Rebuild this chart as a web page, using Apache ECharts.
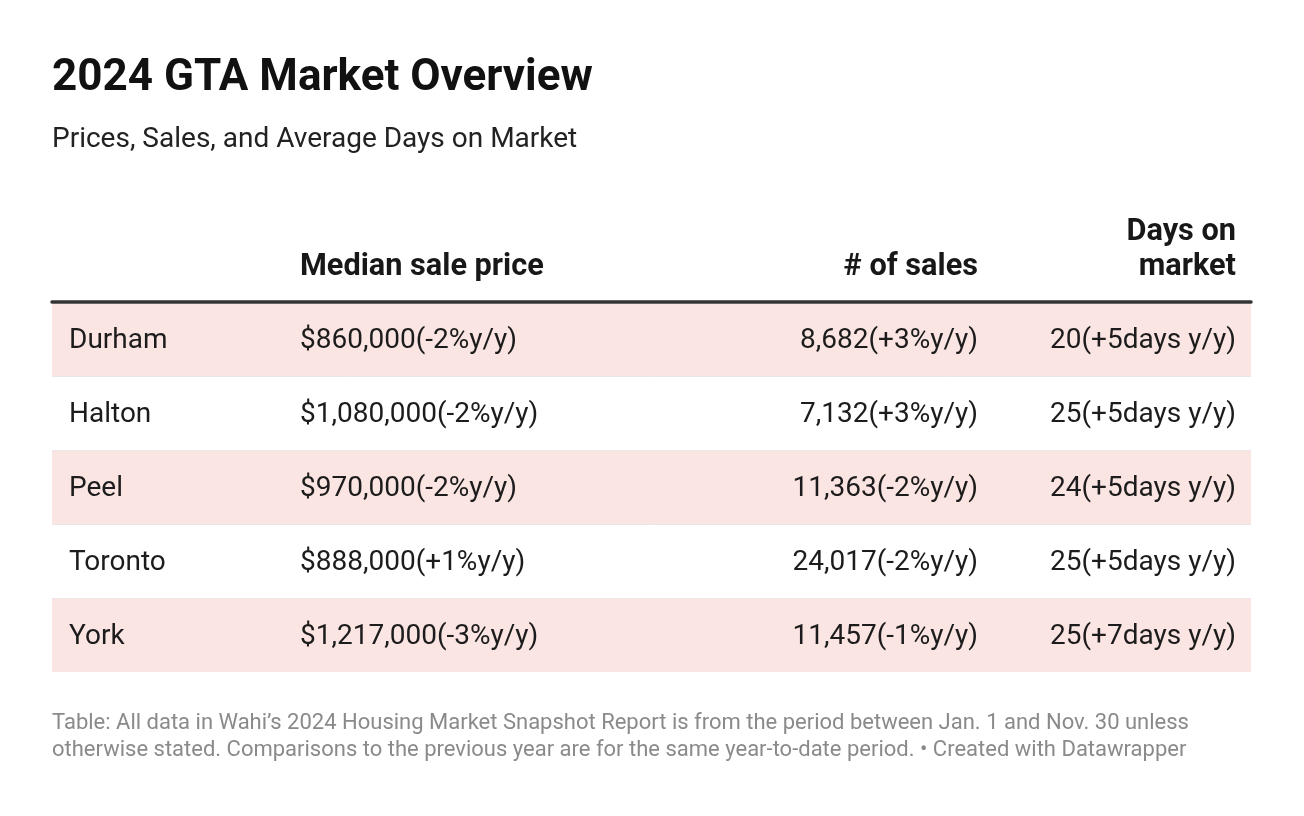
<!DOCTYPE html>
<html>
<head>
<meta charset="utf-8">
<script src="https://cdn.jsdelivr.net/npm/echarts@6/dist/echarts.min.js"></script>
<style>
html,body{margin:0;padding:0;background:#fff;}
#chart{width:1304px;height:816px;}
</style>
</head>
<body>
<div id="chart"></div>
<script>
// ---- Data ----
const regions = ['Durham', 'Halton', 'Peel', 'Toronto', 'York'];
const medianPrice = [860000, 1080000, 970000, 888000, 1217000];
const priceChangePct = [-2, -2, -2, 1, -3];
const salesCount = [8682, 7132, 11363, 24017, 11457];
const salesChangePct = [3, 3, -2, -2, -1];
const daysOnMarket = [20, 25, 24, 25, 25];
const daysChange = [5, 5, 5, 5, 7];
const columnHeaders = ['', 'Median sale price', '# of sales', 'Days on\nmarket'];

const titleText = '2024 GTA Market Overview';
const subtitleText = 'Prices, Sales, and Average Days on Market';
const noteLines = [
  'Table: All data in Wahi\u2019s 2024 Housing Market Snapshot Report is from the period between Jan. 1 and Nov. 30 unless',
  'otherwise stated. Comparisons to the previous year are for the same year-to-date period. \u2022 Created with Datawrapper'
];

// ---- Formatting ----
const fmt = n => n.toLocaleString('en-US');
const sgn = n => (n > 0 ? '+' : '') + n;
const cellTexts = regions.map((r, i) => [
  r,
  '$' + fmt(medianPrice[i]) + '(' + sgn(priceChangePct[i]) + '%y/y)',
  fmt(salesCount[i]) + '(' + sgn(salesChangePct[i]) + '%y/y)',
  daysOnMarket[i] + '(' + sgn(daysChange[i]) + 'days y/y)'
]);

// ---- Layout ----
const FONT = 'Roboto, "Noto Sans", Arial, sans-serif';
const GRID = { left: 52, right: 53, top: 302, bottom: 144 };
const COLS = [
  { from: 'left', off: 17, align: 'left' },
  { from: 'left', off: 248, align: 'left' },
  { from: 'right', off: 273, align: 'right' },
  { from: 'right', off: 15, align: 'right' }
];
const ROW_FILL = '#fbe5e3';
const SEP = '#ece5e5';

function colX(cs, c) {
  return c.from === 'left' ? cs.x + c.off : cs.x + cs.width - c.off;
}

const chart = echarts.init(document.getElementById('chart'), null, { renderer: 'canvas' });

const headerGraphics = [];
COLS.forEach((c, k) => {
  const h = columnHeaders[k];
  if (!h) return;
  const x = c.from === 'left' ? GRID.left + c.off : 1304 - GRID.right - c.off;
  const lines = h.split('\n');
  lines.forEach((ln, j) => {
    headerGraphics.push({
      type: 'text',
      style: {
        text: ln, x: x, y: 267 - (lines.length - 1 - j) * 35,
        align: c.align, verticalAlign: 'middle',
        font: 'bold 30.7px ' + FONT, fill: '#181818'
      }
    });
  });
});

const option = {
  backgroundColor: '#ffffff',
  animation: false,
  grid: { left: GRID.left, right: GRID.right, top: GRID.top, bottom: GRID.bottom, containLabel: false },
  xAxis: {
    type: 'value', min: 0, max: 1, position: 'top',
    axisLine: { show: true, onZero: false, lineStyle: { color: '#333333', width: 3.5 } },
    axisTick: { show: false }, axisLabel: { show: false }, splitLine: { show: false }
  },
  yAxis: {
    type: 'category', data: regions, inverse: true,
    axisLine: { show: false }, axisTick: { show: false }, axisLabel: { show: false }, splitLine: { show: false }
  },
  graphic: [
    { type: 'text', style: { text: titleText, x: 52, y: 79, verticalAlign: 'middle', font: 'bold 44px ' + FONT, fill: '#111' } },
    { type: 'text', style: { text: subtitleText, x: 52, y: 140, verticalAlign: 'middle', font: '28px ' + FONT, fill: '#222' } },
    { type: 'text', style: { text: noteLines[0], x: 52, y: 723, verticalAlign: 'middle', font: '22px ' + FONT, fill: '#8a8a8a' } },
    { type: 'text', style: { text: noteLines[1], x: 52, y: 750, verticalAlign: 'middle', font: '22px ' + FONT, fill: '#8a8a8a' } }
  ].concat(headerGraphics),
  series: [{
    type: 'custom',
    coordinateSystem: 'cartesian2d',
    data: regions.map((r, i) => [0, r]),
    encode: { x: 0, y: 1 },
    z: 1,
    renderItem: function (params, api) {
      const i = params.dataIndex;
      const cs = params.coordSys;
      const cy = api.coord([0, i])[1];
      const h = api.size([0, 1])[1];
      const top = cy - h / 2;
      const children = [];
      if (i % 2 === 0) {
        children.push({ type: 'rect', shape: { x: cs.x, y: top + (i === 0 ? 2 : 0), width: cs.width, height: h - (i === 0 ? 2 : 0) }, style: { fill: ROW_FILL } });
      }
      if (i > 0) {
        children.push({ type: 'line', shape: { x1: cs.x, y1: top + 0.5, x2: cs.x + cs.width, y2: top + 0.5 }, style: { stroke: SEP, lineWidth: 1 } });
      }
      COLS.forEach((c, k) => {
        children.push({
          type: 'text',
          style: {
            text: cellTexts[i][k], x: colX(cs, c), y: cy + 2,
            align: c.align, verticalAlign: 'middle',
            font: '28px ' + FONT, fill: '#1c1c1c'
          }
        });
      });
      return { type: 'group', children: children };
    }
  }]
};
chart.setOption(option);
</script>
</body>
</html>
